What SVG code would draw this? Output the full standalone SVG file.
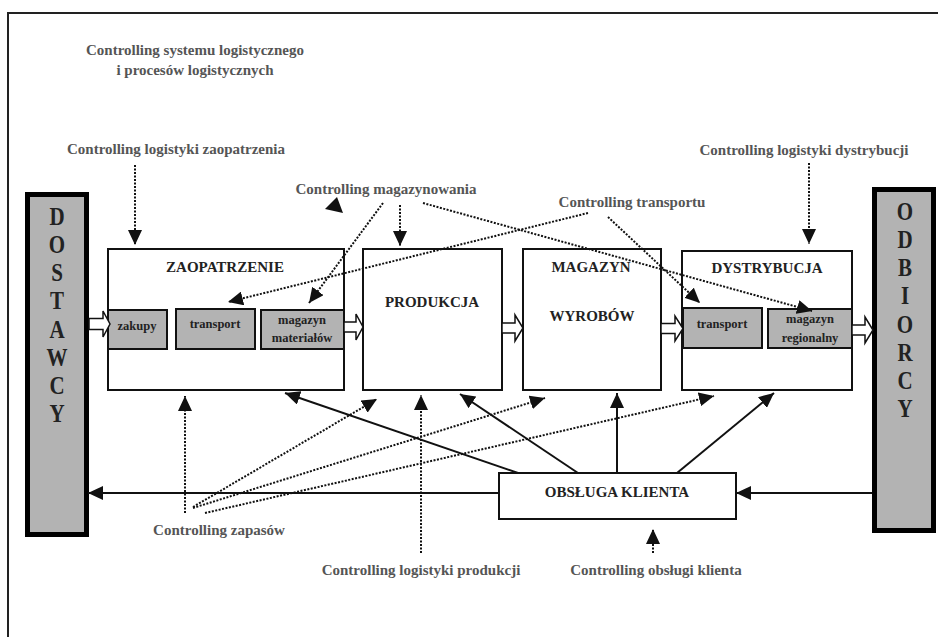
<svg xmlns="http://www.w3.org/2000/svg" width="938" height="637" viewBox="0 0 938 637">
<style>
.lbl{font-family:"Liberation Serif","Times New Roman",serif;font-weight:bold;font-size:15px;fill:#555;text-anchor:middle}
.ttl{font-family:"Liberation Serif","Times New Roman",serif;font-weight:bold;font-size:15px;fill:#222;text-anchor:middle}
.sub{font-family:"Liberation Serif","Times New Roman",serif;font-weight:bold;font-size:12.5px;fill:#222;text-anchor:middle}
.bar{font-family:"Liberation Serif","Times New Roman",serif;font-weight:bold;font-size:21px;fill:#222;text-anchor:middle}
.box{fill:#fff;stroke:#111;stroke-width:2}
.gbox{fill:#b3b3b3;stroke:#111;stroke-width:2}
.side{fill:#b3b3b3;stroke:#000;stroke-width:5}
.blk{fill:#fff;stroke:#111;stroke-width:1.5}
.sol{fill:none;stroke:#111;stroke-width:2;marker-end:url(#ah)}
.dot{fill:none;stroke:#111;stroke-width:2;stroke-dasharray:2 1.5;marker-end:url(#ah)}
</style>
<defs>
<marker id="ah" markerUnits="userSpaceOnUse" markerWidth="16" markerHeight="14" refX="15" refY="7" orient="auto">
<path d="M0,0 L15,7 L0,14 z" fill="#111"/>
</marker>
</defs>
<rect x="8" y="13" width="1000" height="1000" fill="#fff" stroke="#222" stroke-width="2"/>

<text class="lbl" x="195" y="55">Controlling systemu logistycznego</text>
<text class="lbl" x="195" y="75">i procesów logistycznych</text>

<g id="dostawcy">
<rect class="side" x="27.5" y="194.5" width="59" height="340"/>
<g class="bar">
<text transform="translate(57,225) scale(1,1.2)">D</text>
<text transform="translate(57,253) scale(1,1.2)">O</text>
<text transform="translate(57,281) scale(1,1.2)">S</text>
<text transform="translate(57,309) scale(1,1.2)">T</text>
<text transform="translate(57,338) scale(1,1.2)">A</text>
<text transform="translate(57,366) scale(1,1.2)">W</text>
<text transform="translate(57,394) scale(1,1.2)">C</text>
<text transform="translate(57,422) scale(1,1.2)">Y</text>
</g>
</g>

<g id="odbiorcy">
<rect class="side" x="874.5" y="189.5" width="59" height="341"/>
<g class="bar">
<text transform="translate(905,220) scale(1,1.2)">O</text>
<text transform="translate(905,248) scale(1,1.2)">D</text>
<text transform="translate(905,276) scale(1,1.2)">B</text>
<text transform="translate(905,304) scale(1,1.2)">I</text>
<text transform="translate(905,333) scale(1,1.2)">O</text>
<text transform="translate(905,361) scale(1,1.2)">R</text>
<text transform="translate(905,389) scale(1,1.2)">C</text>
<text transform="translate(905,417) scale(1,1.2)">Y</text>
</g>
</g>

<g id="zaopatrzenie">
<rect class="box" x="108" y="249" width="236" height="141"/>
<text class="ttl" x="225" y="272">ZAOPATRZENIE</text>
<rect class="gbox" x="108" y="310" width="59" height="39"/>
<text class="sub" x="137" y="330">zakupy</text>
<rect class="gbox" x="176" y="309" width="79" height="40"/>
<text class="sub" x="215" y="328">transport</text>
<rect class="gbox" x="261" y="310" width="83" height="39"/>
<text class="sub" x="302" y="324">magazyn</text>
<text class="sub" x="302" y="342">materiałów</text>
</g>

<g id="produkcja">
<rect class="box" x="363" y="249" width="139" height="141"/>
<text class="ttl" x="432" y="307">PRODUKCJA</text>
</g>

<g id="magazyn">
<rect class="box" x="523" y="249" width="138" height="141"/>
<text class="ttl" x="591" y="272">MAGAZYN</text>
<text class="ttl" x="592" y="321">WYROBÓW</text>
</g>

<g id="dystrybucja">
<rect class="box" x="682" y="251" width="170" height="139"/>
<text class="ttl" x="767" y="273">DYSTRYBUCJA</text>
<rect class="gbox" x="683" y="308" width="79" height="40"/>
<text class="sub" x="722" y="328">transport</text>
<rect class="gbox" x="768" y="309" width="84" height="39"/>
<text class="sub" x="810" y="323">magazyn</text>
<text class="sub" x="810" y="342">regionalny</text>
</g>

<g id="obsluga">
<rect class="box" x="499" y="473" width="237" height="46"/>
<text class="ttl" x="617" y="497">OBSŁUGA KLIENTA</text>
</g>

<g id="labels">
<text class="lbl" x="176" y="154">Controlling logistyki zaopatrzenia</text>
<text class="lbl" x="386" y="194">Controlling magazynowania</text>
<text class="lbl" x="632" y="207">Controlling transportu</text>
<text class="lbl" x="804" y="155">Controlling logistyki dystrybucji</text>
<text class="lbl" x="219" y="535">Controlling zapasów</text>
<text class="lbl" x="421" y="575">Controlling logistyki produkcji</text>
<text class="lbl" x="656" y="575">Controlling obsługi klienta</text>
</g>

<g id="connectors">
<path class="blk" d="M89,318.5 H103 V311 L110,324 L103,337 V329.5 H89 Z"/>
<path class="blk" d="M344,322 H356 V314 L363,327 L356,340 V332 H344 Z"/>
<path class="blk" d="M502,323 H515 V315 L523,328 L515,341 V333 H502 Z"/>
<path class="blk" d="M661,323.5 H675 V316 L683,328.5 L675,341 V333.5 H661 Z"/>
<path class="blk" d="M852,325 H865 V317 L873,330 L865,343 V335 H852 Z"/>

<line class="sol" x1="518" y1="473" x2="285" y2="393"/>
<line class="sol" x1="578" y1="473" x2="460" y2="394"/>
<line class="sol" x1="617" y1="473" x2="617" y2="393"/>
<line class="sol" x1="677" y1="473" x2="774" y2="393"/>
<line class="sol" x1="872" y1="493" x2="736" y2="493"/>
<line class="sol" x1="499" y1="493" x2="88" y2="493"/>

<line class="dot" x1="135" y1="165" x2="135" y2="245"/>
<line class="dot" x1="383" y1="203" x2="309" y2="303"/>
<line class="dot" x1="400" y1="205" x2="400" y2="246"/>
<line class="dot" x1="423" y1="203" x2="812" y2="311"/>
<line class="dot" x1="588" y1="213" x2="228" y2="302"/>
<line class="dot" x1="608" y1="217" x2="700" y2="303"/>
<line class="dot" x1="809" y1="163" x2="809" y2="244"/>
<line class="dot" x1="185" y1="513" x2="185" y2="396"/>
<line class="dot" x1="193" y1="507" x2="377" y2="399"/>
<line class="dot" x1="193" y1="508" x2="545" y2="398"/>
<line class="dot" x1="205" y1="513" x2="714" y2="396"/>
<line class="dot" x1="421" y1="553" x2="421" y2="395"/>
<line class="dot" x1="653" y1="553" x2="653" y2="529"/>
<polygon points="337,197 325,209 343,213" fill="#111"/>
</g>
</svg>
